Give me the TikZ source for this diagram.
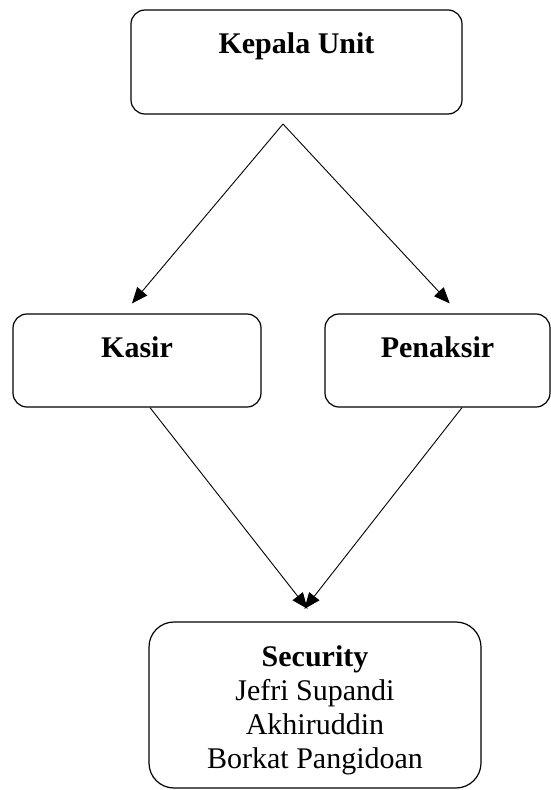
\documentclass[tikz,border=0pt]{standalone}
\usepackage{fontspec}
\setmainfont{Liberation Serif}
\usetikzlibrary{arrows.meta}
\tikzstyle{unitBox}=[shape = rectangle, draw, line width = 1.2pt, rounded corners = 14pt, inner sep = 0pt, font = \fontsize{30}{34}\selectfont\bfseries, text height = 43pt]
\tikzstyle{staffBox}=[shape = rectangle, draw, line width = 1.2pt, rounded corners = 25pt, inner sep = 0pt, align = center, font = \fontsize{30}{34}\selectfont]

\begin{document}
\begin{tikzpicture}[x = 1pt, y = -1pt]
\tikzstyle{linkStyle}=[line width = 0.9pt, -{Triangle[length = 16pt, width = 13pt]}]
\useasboundingbox (0,0) rectangle (551,790);
\node[unitBox, minimum width = 331pt, minimum height = 104pt, text depth = 61pt] (kepala) at (296.5,62) {Kepala Unit};
\node[unitBox, minimum width = 248pt, minimum height = 93pt, text depth = 50pt] (kasir) at (137,360.5) {Kasir};
\node[unitBox, minimum width = 225pt, minimum height = 93pt, text depth = 50pt] (penaksir) at (437.5,360.5) {Penaksir};
\node[staffBox, minimum width = 332pt, minimum height = 166pt] (security) at (315,705) {\rule{0pt}{31pt}\textbf{Security}\\Jefri Supandi\\Akhiruddin\\Borkat Pangidoan};
\coordinate (kepalaFoot) at (283,124);
\draw[linkStyle, shorten > = 13pt] (kepalaFoot) -- ([xshift = -13.4pt]kasir.north);
\draw[linkStyle, shorten > = 13.6pt] (kepalaFoot) -- ([xshift = 21.5pt]penaksir.north);
\draw[linkStyle, shorten > = 16pt] ([xshift = 13pt]kasir.south) -- ([xshift = 2.4pt]security.north);
\draw[linkStyle, shorten > = 16pt] ([xshift = 24.5pt]penaksir.south) -- ([xshift = -20.4pt]security.north);
\end{tikzpicture}
\end{document}
